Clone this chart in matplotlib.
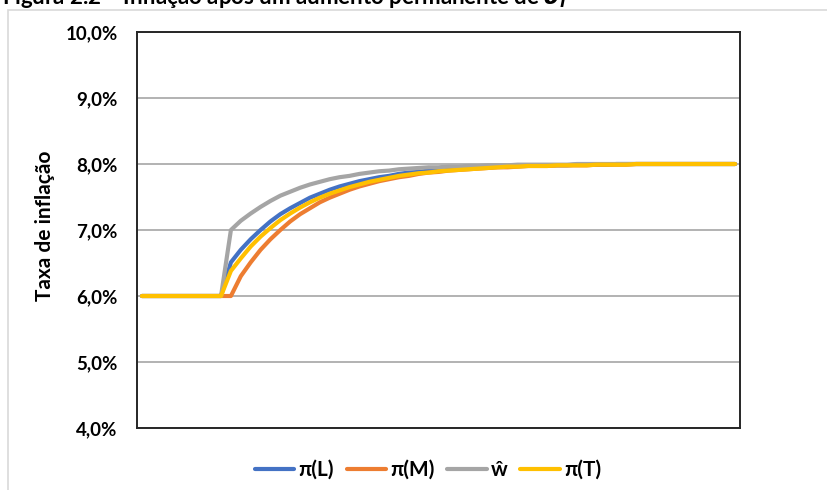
import matplotlib.pyplot as plt
from matplotlib.patches import Rectangle
from matplotlib.ticker import FuncFormatter

plt.rcParams['font.family'] = ['Lato', 'DejaVu Sans']
plt.rcParams['font.weight'] = 'bold'

# taxa de inflação (%) por período, 61 períodos
periodos = list(range(61))

pi_L = [6.00, 6.00, 6.00, 6.00, 6.00, 6.00, 6.00, 6.00, 6.00,
        6.51, 6.70, 6.86, 7.00, 7.13, 7.24, 7.33, 7.41, 7.49, 7.55,
        7.61, 7.66, 7.70, 7.74, 7.77, 7.80, 7.82, 7.85, 7.87, 7.88,
        7.90, 7.91, 7.92, 7.93, 7.94, 7.95, 7.95, 7.96, 7.96, 7.97,
        7.97, 7.98, 7.98, 7.98, 7.98, 7.99, 7.99, 7.99, 7.99, 8.00,
        8.00, 8.00, 8.00, 8.00, 8.00, 8.00, 8.00, 8.00, 8.00, 8.00,
        8.00, 8.00]

pi_M = [6.00, 6.00, 6.00, 6.00, 6.00, 6.00, 6.00, 6.00, 6.00,
        6.00, 6.30, 6.51, 6.70, 6.86, 7.00, 7.13, 7.24, 7.33, 7.42,
        7.49, 7.55, 7.61, 7.66, 7.70, 7.74, 7.77, 7.80, 7.82, 7.85,
        7.87, 7.88, 7.90, 7.91, 7.92, 7.93, 7.94, 7.95, 7.95, 7.96,
        7.97, 7.97, 7.97, 7.98, 7.98, 7.98, 7.98, 7.99, 7.99, 7.99,
        7.99, 8.00, 8.00, 8.00, 8.00, 8.00, 8.00, 8.00, 8.00, 8.00,
        8.00, 8.00]

w_hat = [6.00, 6.00, 6.00, 6.00, 6.00, 6.00, 6.00, 6.00, 6.00,
         7.00, 7.14, 7.25, 7.35, 7.44, 7.52, 7.58, 7.64, 7.69, 7.73,
         7.77, 7.80, 7.82, 7.85, 7.87, 7.89, 7.90, 7.92, 7.93, 7.94,
         7.95, 7.95, 7.96, 7.96, 7.97, 7.97, 7.98, 7.98, 7.98, 7.99,
         7.99, 7.99, 7.99, 7.99, 7.99, 8.00, 8.00, 8.00, 8.00, 8.00,
         8.00, 8.00, 8.00, 8.00, 8.00, 8.00, 8.00, 8.00, 8.00, 8.00,
         8.00, 8.00]

pi_T = [6.00, 6.00, 6.00, 6.00, 6.00, 6.00, 6.00, 6.00, 6.00,
        6.38, 6.57, 6.75, 6.90, 7.03, 7.15, 7.25, 7.34, 7.42, 7.49,
        7.55, 7.60, 7.65, 7.69, 7.73, 7.76, 7.79, 7.82, 7.84, 7.86,
        7.87, 7.89, 7.90, 7.91, 7.92, 7.93, 7.94, 7.95, 7.96, 7.96,
        7.97, 7.97, 7.97, 7.98, 7.98, 7.98, 7.98, 7.99, 7.99, 7.99,
        7.99, 8.00, 8.00, 8.00, 8.00, 8.00, 8.00, 8.00, 8.00, 8.00,
        8.00, 8.00]

series = [
    ('π(L)', pi_L, '#4472C4'),
    ('π(M)', pi_M, '#ED7D31'),
    ('ŵ', w_hat, '#A5A5A5'),
    ('π(T)', pi_T, '#FFC000'),
]

fig = plt.figure(figsize=(8.27, 4.90), dpi=100)

# moldura clara do gráfico
fig.patches.append(Rectangle((8 / 827, -0.05), 1.0, 1 - 10 / 490 + 0.05,
                             transform=fig.transFigure, fill=False,
                             edgecolor='#D9D9D9', linewidth=1.2))

# título (parcialmente fora da página)
fig.text(0.002, 1 - 4 / 490, 'Figura 2.2 – Inflação após um aumento permanente de $\\theta_l$',
         fontsize=16, fontweight='bold', va='baseline', ha='left')

ax = fig.add_axes([137 / 827, 1 - 428 / 490, 603 / 827, 396 / 490])

for nome, valores, cor in series:
    ax.plot(periodos, valores, color=cor, linewidth=3.0, label=nome,
            solid_capstyle='round', solid_joinstyle='round')

ax.set_xlim(-0.5, 60.5)
ax.set_ylim(4.0, 10.0)
ax.set_yticks([4, 5, 6, 7, 8, 9, 10])
ax.yaxis.set_major_formatter(FuncFormatter(lambda v, p: f'{v:.1f}%'.replace('.', ',')))
ax.set_xticks([])
ax.tick_params(axis='y', length=0, pad=14, labelsize=13.5)
for t in ax.get_yticklabels():
    t.set_fontweight('bold')

ax.grid(axis='y', color='#A6A6A6', linewidth=1.2)
ax.set_axisbelow(True)
for s in ax.spines.values():
    s.set_color('#262626')
    s.set_linewidth(1.4)

ax.set_ylabel('Taxa de inflação', fontsize=15, fontweight='bold')
ax.yaxis.set_label_coords(-82 / 603, (428 - 226) / 396)

ax.legend(loc='center', bbox_to_anchor=(428 / 827, 1 - 470 / 490),
          bbox_transform=fig.transFigure, ncol=4, frameon=False,
          handlelength=1.9, handletextpad=0.2, columnspacing=0.6,
          prop={'weight': 'bold', 'size': 15})

fig.savefig('out.png', dpi=100)
